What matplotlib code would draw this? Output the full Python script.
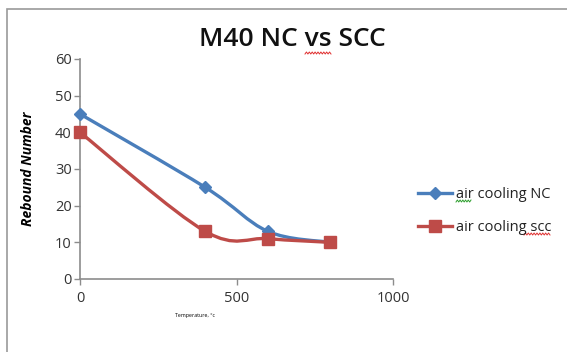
import numpy as np
import matplotlib.pyplot as plt
from matplotlib.path import Path
from matplotlib.patches import PathPatch, Rectangle
from matplotlib.lines import Line2D

plt.rcParams['font.family'] = ['Open Sans', 'DejaVu Sans']

# rebound number against temperature
temperature = [0, 400, 600, 800]
nc_rebound = [45, 25, 13, 10]
scc_rebound = [40, 13, 11, 10]
series_names = ['air cooling NC', 'air cooling scc']

blue = '#4A7EBB'
red = '#BE4B48'
axis_gray = '#8C8C8C'


def smooth_path(x, y):
    """Bezier path through the points, Excel-style smoothing."""
    pts = np.column_stack([x, y]).astype(float)
    n = len(pts)
    verts = [pts[0]]
    codes = [Path.MOVETO]
    for i in range(n - 1):
        p0 = pts[max(i - 1, 0)]
        p1 = pts[i]
        p2 = pts[i + 1]
        p3 = pts[min(i + 2, n - 1)]
        c1 = p1 + (p2 - p0) / 6.0
        c2 = p2 - (p3 - p1) / 6.0
        verts += [c1, c2, p2]
        codes += [Path.CURVE4] * 3
    return Path(verts, codes)


def squiggle(fig, x0, x1, y, color):
    xs = np.linspace(x0, x1, int((x1 - x0) / 1.5) + 2)
    ys = y + np.where(np.arange(len(xs)) % 2 == 0, 1.0, -1.0)
    fig.add_artist(Line2D(xs / 567, 1 - ys / 352, color=color, lw=0.7))


fig = plt.figure(figsize=(5.67, 3.52), dpi=100)

# chart frame
fig.add_artist(Rectangle((7 / 567, -0.1), 1.2, 1 - 9 / 352 + 0.1,
                         transform=fig.transFigure, fill=False,
                         edgecolor='#9A9A9A', lw=1.2))

ax = fig.add_axes([80 / 567, 1 - 279 / 352, 313 / 567, 220 / 352])
ax.set_xlim(0, 1000)
ax.set_ylim(0, 60)
ax.set_xticks([0, 500, 1000])
ax.set_yticks(range(0, 61, 10))
for s in ['top', 'right']:
    ax.spines[s].set_visible(False)
for s in ['left', 'bottom']:
    ax.spines[s].set_color(axis_gray)
    ax.spines[s].set_linewidth(1.2)
ax.tick_params(colors=axis_gray, labelcolor='#333333', labelsize=10.5,
               length=4, width=1)
ax.tick_params(axis='x', pad=5)
ax.tick_params(axis='y', pad=2)

for yv, col, mk, ms in [(nc_rebound, blue, 'D', 6.5), (scc_rebound, red, 's', 8.5)]:
    ax.add_patch(PathPatch(smooth_path(temperature, yv), fill=False,
                           edgecolor=col, lw=2.4, capstyle='round'))
    ax.plot(temperature, yv, ls='none', marker=mk, ms=ms, color=col,
            clip_on=False, zorder=3)

ax.set_ylabel('Rebound Number', fontsize=10, fontstyle='italic',
              fontweight='bold')
ax.yaxis.set_label_coords(-45 / 313, 0.5)
ax.set_xlabel('Temperature, °c', fontsize=3.8)
ax.xaxis.set_label_coords(115 / 313, -34 / 220)

fig.text(292 / 567, 1 - 40 / 352, 'M40 NC vs SCC', ha='center', va='center',
         fontsize=19, fontweight='semibold', color='#111111')

handles = [Line2D([], [], color=blue, lw=2.4, marker='D', ms=6.5),
           Line2D([], [], color=red, lw=2.4, marker='s', ms=9)]
fig.legend(handles, series_names, loc='center left',
           bbox_to_anchor=(405 / 567, 1 - 211 / 352), frameon=False,
           fontsize=10.5, handlelength=2.3, handletextpad=0.3,
           labelspacing=1.2, labelcolor='#222222')

squiggle(fig, 305, 331, 53, '#E03030')
squiggle(fig, 456, 471, 201, '#30A030')
squiggle(fig, 524, 550, 234, '#E03030')

fig.savefig('out.png', dpi=100)
